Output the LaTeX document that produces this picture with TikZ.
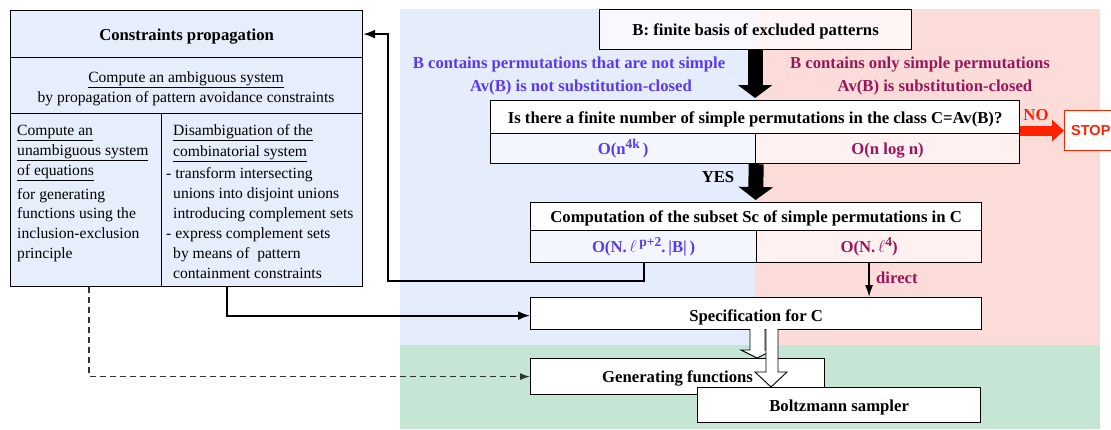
\documentclass[tikz,border=0pt]{standalone}
\usepackage{fontspec}
\setmainfont{Liberation Serif}
\setsansfont{Liberation Sans}
\usetikzlibrary{arrows.meta,calc}
\definecolor{bgblue}{RGB}{229,236,252}
\definecolor{bgpink}{RGB}{252,220,216}
\definecolor{bggreen}{RGB}{197,229,213}
\definecolor{boxblue}{RGB}{230,237,251}
\definecolor{cellblue}{RGB}{243,246,254}
\definecolor{cellpink}{RGB}{254,241,239}
\definecolor{txtblue}{RGB}{90,58,240}
\definecolor{txtmag}{RGB}{152,22,92}
\definecolor{stopred}{RGB}{255,34,0}
\newcommand\fs{\fontsize{15.6}{20}\selectfont}
\newcommand\bfs{\fontsize{16.7}{20}\selectfont\bfseries}
\newcommand\sups[1]{\raisebox{6pt}{\fontsize{13.5}{13.5}\selectfont #1}}
\tikzset{
  cell/.style={draw=black, line width=1.2pt, anchor=north west, inner sep=0pt},
  txt/.style={font=\fs, inner sep=0pt, text height=14pt, text depth=2pt},
  btxt/.style={font=\bfs, inner sep=0pt, text height=14pt, text depth=2pt},
  conn/.style={line width=1.8pt, -{Latex[length=12pt,width=9pt]}},
  bigarrow/.style={line width=15pt, -{Triangle[width=34pt,length=13pt]}},
  hollow/.style={draw=black, line width=0.9pt, fill=white},
}
\begin{document}
\begin{tikzpicture}[x=1pt,y=-1pt]
\useasboundingbox (0,0) rectangle (1111,429);
\clip (0,0) rectangle (1111,429);
% backgrounds
\fill[bgblue] (400,9) rectangle (755,345);
\fill[bgpink] (755,9) rectangle (1100,345);
\fill[bggreen] (400,345) rectangle (1100,429);

% left box
\node[cell, fill=boxblue, minimum width=352pt, minimum height=47pt] (lhead) at (10,10) {};
\node[btxt] at (lhead.center) {Constraints propagation};
\node[cell, fill=boxblue, minimum width=352pt, minimum height=56pt] (lrow) at (10,57) {};
\node[txt] at (186,76) {\underline{Compute an ambiguous system}};
\node[txt] at (186,96) {by propagation of pattern avoidance constraints};
\node[cell, fill=boxblue, minimum width=151pt, minimum height=173pt] (lcolA) at (10,113) {};
\node[cell, fill=boxblue, minimum width=201pt, minimum height=173pt] (lcolB) at (161,113) {};
\foreach \t/\y in {{\underline{Compute an}}/129,{\underline{unambiguous system}}/149,{\underline{of equations}}/169,
  {for generating}/193,{functions using the}/212,{inclusion-exclusion}/232,{principle}/252}
  \node[txt, anchor=west] at (17,\y) {\t};
\foreach \t/\y in {{\underline{Disambiguation of the}}/129,{\underline{combinatorial system}}/150,
  {unions into disjoint unions}/192,{introducing complement sets}/212,
  {by means of\ \ pattern}/252,{containment constraints}/272}
  \node[txt, anchor=west] at (173,\y) {\t};
\node[txt, anchor=west] at (166,172) {- transform intersecting};
\node[txt, anchor=west] at (166,232) {- express complement sets};

% B box
\node[cell, fill=white, fill opacity=0.72, text opacity=1, minimum width=312pt, minimum height=40pt] (bbox) at (599,9) {};
\node[btxt] at (bbox.center) {B: finite basis of excluded patterns};

% labels
\node[btxt, text=txtblue] at (569,62) {B contains permutations that are not simple};
\node[btxt, text=txtblue] at (581,85) {Av(B) is not substitution-closed};
\node[btxt, text=txtmag] at (920,62) {B contains only simple permutations};
\node[btxt, text=txtmag] at (935,85) {Av(B) is substitution-closed};

% question box
\node[cell, fill=white, minimum width=529pt, minimum height=33pt] (qtop) at (490,100) {};
\node[btxt] at (qtop.center) {Is there a finite number of simple permutations in the class C=Av(B)?};
\node[cell, fill=cellblue, minimum width=265pt, minimum height=30pt] (qleft) at (490,133) {};
\node[btxt, text=txtblue] at (qleft.center) {O(n\sups{4k}\,)};
\node[cell, fill=cellpink, minimum width=264pt, minimum height=30pt] (qright) at (755,133) {};
\node[btxt, text=txtmag] at (qright.center) {O(n log n)};

% stop
\node[cell, draw=stopred, fill=white, minimum width=70pt, minimum height=40pt] (stop) at (1064,110) {};
\node[font=\fontsize{14.5}{17}\selectfont\sffamily\bfseries, text=stopred, anchor=west, inner sep=0pt] at (1071,131) {STOP};
\draw[stopred, line width=10pt, -{Triangle[width=21pt,length=12pt]}] (stop.west -| qtop.east) -- (stop.west);
\node[btxt, text=stopred] at (1036,114) {NO};

% computation box
\node[cell, fill=white, minimum width=451pt, minimum height=28pt] (ctop) at (530,202) {};
\node[btxt] at (ctop.center) {Computation of the subset Sc of simple permutations in C};
\node[cell, fill=cellblue, minimum width=226pt, minimum height=32pt] (cleft) at (530,230) {};
\node[btxt, text=txtblue] at (cleft.center) {O(N.\,$\ell$\,\sups{p+2}.\,|B|\,)};
\node[cell, fill=cellpink, minimum width=225pt, minimum height=32pt] (cright) at (756,230) {};
\node[btxt, text=txtmag] at (cright.center) {O(N.\,$\ell$\sups{4})};

% big arrows
\draw[bigarrow] ($(bbox.south)+(-0.5,0)$) -- ($(qtop.north)+(0,-2)$);
\draw[bigarrow] ($(qleft.south east)+(0,0)$) -- ($(ctop.north)+(-0.5,-2)$);
\node[btxt] at (718,176) {YES};

% spec
\node[cell, fill=white, minimum width=451pt, minimum height=32pt] (spec) at (530,297) {};
\node[btxt] at ($(spec.center)+(0,1.5)$) {Specification for C};
\draw[line width=1.5pt, -{Latex[length=12pt,width=8pt]}] (cright.south) -- (cright.south |- spec.north);
\node[btxt, text=txtmag, anchor=west] at (876,277) {direct};

% gen + boltz
\node[cell, fill=white, minimum width=294pt, minimum height=36pt] (gen) at (530,358) {};
\node[btxt] at (gen.center) {Generating functions};
\draw[hollow] (750,329) -- (750,350) -- (741,350) -- (757,358) -- (773,350) -- (765,350) -- (765,329);
\node[cell, fill=white, minimum width=283pt, minimum height=35pt] (boltz) at (697,387) {};
\node[btxt] at (boltz.center) {Boltzmann sampler};
\draw[hollow] (766,329) -- (766,372) -- (755,372) -- (771,387) -- (787,372) -- (778,372) -- (778,329);

% connectors
\coordinate (c1) at (388,281);
\draw[conn] (cleft.south) |- (c1) |- (lhead.east);
\coordinate (a1) at ($(lcolB.south west)+(66,0)$);
\draw[conn] (a1) |- ($(spec.west)+(0,2)$);
\coordinate (d1) at ($(lcolA.south west)+(79,0)$);
\draw[line width=1.2pt, black!80, dash pattern=on 6pt off 4pt, -{Latex[length=10pt,width=7pt]}] (d1) |- (gen.west);
\end{tikzpicture}
\end{document}
